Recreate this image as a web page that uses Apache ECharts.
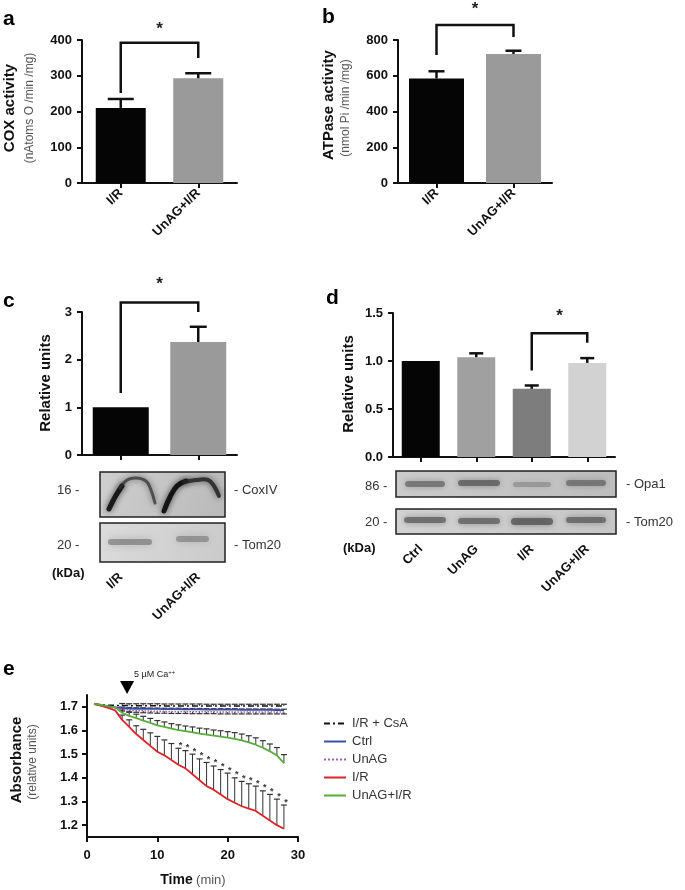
<!DOCTYPE html>
<html><head><meta charset="utf-8">
<script src="https://cdn.jsdelivr.net/npm/echarts@6/dist/echarts.min.js"></script>
<style>html,body{margin:0;padding:0;background:#fff}#c{width:685px;height:890px}</style>
</head><body><div id="c"></div>
<script>
const FONT = '"Liberation Sans", Arial, sans-serif';

// ---- Panel a : COX activity ----
const groupsAB = ['I/R', 'UnAG+I/R'];
const coxActivity = [210, 293];
const coxActivitySem = [25, 14];
const coxBracket = [252, 392, 350];

// ---- Panel b : ATPase activity ----
const atpaseActivity = [585, 722];
const atpaseActivitySem = [40, 18];
const atpBracket = [716, 884, 817];

// ---- Panel c : CoxIV relative units ----
const coxIVRelative = [1.0, 2.37];
const coxIVSem = [0, 0.32];
const coxIVBracket = [1.3, 3.2, 3.0];

// ---- Panel d : Opa1 relative units ----
const groupsD = ['Ctrl', 'UnAG', 'I/R', 'UnAG+I/R'];
const opa1Relative = [1.0, 1.04, 0.71, 0.98];
const opa1Sem = [0, 0.04, 0.035, 0.05];
const opa1Bracket = [0.9, 1.29, 1.19];

// ---- Panel e : absorbance over time ----
const timeMin = [1,2,3,4,5,6,7,8,9,10,11,12,13,14,15,16,17,18,19,20,21,22,23,24,25,26,27,28];
const absCsA   = [1.712,1.709,1.707,1.706,1.706,1.705,1.705,1.705,1.705,1.705,1.704,1.704,1.704,1.704,1.704,1.704,1.703,1.703,1.703,1.703,1.703,1.703,1.703,1.703,1.703,1.703,1.703,1.703];
const semCsA   = [0,0,0,0,0.008,0.008,0.008,0.008,0.008,0.008,0.008,0.008,0.008,0.008,0.008,0.008,0.008,0.008,0.008,0.008,0.008,0.008,0.008,0.008,0.008,0.008,0.008,0.008];
const absCtrl  = [1.712,1.706,1.701,1.698,1.695,1.693,1.692,1.692,1.691,1.691,1.690,1.690,1.690,1.689,1.689,1.689,1.688,1.688,1.688,1.688,1.688,1.687,1.687,1.687,1.687,1.687,1.686,1.686];
const semCtrl  = [0,0,0,0,0.004,0.004,0.004,0.004,0.004,0.004,0.004,0.004,0.004,0.004,0.004,0.004,0.004,0.004,0.004,0.004,0.004,0.004,0.004,0.004,0.004,0.004,0.004,0.004];
const absUnAG  = [1.712,1.705,1.699,1.694,1.690,1.687,1.685,1.683,1.682,1.681,1.681,1.680,1.680,1.680,1.679,1.679,1.679,1.679,1.678,1.678,1.678,1.678,1.678,1.678,1.678,1.678,1.678,1.678];
const semUnAG  = [0,0,0,0,0.008,0.008,0.008,0.008,0.008,0.008,0.008,0.008,0.008,0.008,0.008,0.008,0.008,0.008,0.008,0.008,0.008,0.008,0.008,0.008,0.008,0.008,0.008,0.008];
const absIR    = [1.712,1.705,1.695,1.685,1.645,1.615,1.585,1.560,1.535,1.510,1.495,1.475,1.455,1.440,1.415,1.390,1.365,1.350,1.330,1.310,1.295,1.280,1.270,1.260,1.240,1.220,1.200,1.185];
const semIR    = [0,0,0,0,0.020,0.030,0.035,0.045,0.055,0.065,0.065,0.070,0.070,0.075,0.085,0.090,0.100,0.100,0.105,0.110,0.105,0.105,0.105,0.105,0.105,0.110,0.110,0.100];
const absUnAGIR= [1.712,1.708,1.703,1.698,1.675,1.662,1.652,1.642,1.632,1.622,1.615,1.608,1.602,1.597,1.592,1.587,1.583,1.578,1.574,1.570,1.565,1.558,1.550,1.540,1.527,1.512,1.495,1.462];
const semUnAGIR= [0,0,0,0,0.012,0.015,0.017,0.018,0.019,0.020,0.021,0.021,0.022,0.022,0.023,0.023,0.024,0.024,0.025,0.025,0.026,0.027,0.028,0.029,0.030,0.031,0.033,0.036];
const sigTimesIR = [13,14,15,16,17,18,19,20,21,22,23,24,25,26,27,28];
const absTicks = [1.2, 1.3, 1.4, 1.5, 1.6, 1.7];
const caAdditionTime = 5.7;

const chart = echarts.init(document.getElementById('c'), null, {renderer: 'canvas'});

const axisLineS = {show: true, onZero: false, lineStyle: {color: '#111', width: 2}};
const axisTickS = {show: true, inside: false, length: 5, lineStyle: {color: '#111', width: 2}};
const labelS = {color: '#111', fontFamily: FONT, fontWeight: 'bold', fontSize: 13};

function catX(grid, data, rotateMargin) {
  return {type: 'category', gridIndex: grid, data: data, boundaryGap: true,
    axisLine: axisLineS, axisTick: Object.assign({alignWithLabel: true}, axisTickS),
    axisLabel: Object.assign({rotate: 45, margin: rotateMargin, interval: 0}, labelS),
    splitLine: {show: false}};
}
function valY(grid, min, max, interval, margin, fmt) {
  return {type: 'value', gridIndex: grid, min: min, max: max, interval: interval,
    axisLine: axisLineS, axisTick: axisTickS,
    axisLabel: Object.assign({margin: margin, formatter: fmt}, labelS),
    splitLine: {show: false}};
}

function barSeries(xi, vals, colors, width) {
  return {type: 'bar', xAxisIndex: xi, yAxisIndex: xi, barWidth: width, silent: true,
    data: vals.map((v, i) => ({value: v, itemStyle: {color: colors[i]}})), z: 2};
}
function barErrSeries(xi, vals, sems, capW) {
  return {type: 'custom', xAxisIndex: xi, yAxisIndex: xi, clip: false, silent: true, z: 3,
    data: vals.map((v, i) => [i, v, sems[i]]),
    encode: {x: 0, y: 1},
    renderItem: function (params, api) {
      const i = api.value(0), v = api.value(1), e = api.value(2);
      if (!e) return null;
      const p0 = api.coord([i, v]), p1 = api.coord([i, v + e]);
      return {type: 'group', children: [
        {type: 'line', shape: {x1: p0[0], y1: p0[1], x2: p1[0], y2: p1[1]}, style: {stroke: '#111', lineWidth: 2.5}},
        {type: 'line', shape: {x1: p1[0] - capW / 2, y1: p1[1], x2: p1[0] + capW / 2, y2: p1[1]}, style: {stroke: '#111', lineWidth: 2.5}}
      ]};
    }};
}
function bracketSeries(xi, iL, iR, ys, starGap) {
  return {type: 'custom', xAxisIndex: xi, yAxisIndex: xi, clip: false, silent: true, z: 4,
    data: [[iL, iR, ys[0], ys[1], ys[2]]],
    encode: {x: [0, 1], y: [2, 3, 4]},
    renderItem: function (params, api) {
      const a = api.coord([api.value(0), api.value(2)]);
      const b = api.coord([api.value(0), api.value(3)]);
      const c = api.coord([api.value(1), api.value(3)]);
      const d = api.coord([api.value(1), api.value(4)]);
      return {type: 'group', children: [
        {type: 'polyline', shape: {points: [a, b, c, d]}, style: {stroke: '#111', lineWidth: 2.5, fill: null}},
        {type: 'text', x: (b[0] + c[0]) / 2, y: b[1] - starGap,
          style: {text: '*', font: 'bold 17px ' + FONT, align: 'center', verticalAlign: 'middle', fill: '#222'}}
      ]};
    }};
}
function lineSeries(name, vals, color, width, type) {
  return {type: 'line', name: name, xAxisIndex: 4, yAxisIndex: 4, symbol: 'none', silent: true,
    data: timeMin.map((t, i) => [t, vals[i]]),
    lineStyle: {color: color, width: width, type: type}, itemStyle: {color: color}, z: 5};
}
function curveErrSeries(vals, sems, dir) {
  return {type: 'custom', xAxisIndex: 4, yAxisIndex: 4, clip: false, silent: true, z: 4,
    data: timeMin.map((t, i) => [t, vals[i], sems[i]]),
    encode: {x: 0, y: 1},
    renderItem: function (params, api) {
      const t = api.value(0), v = api.value(1), e = api.value(2);
      if (!e) return null;
      const p0 = api.coord([t, v]), p1 = api.coord([t, v + dir * e]);
      return {type: 'group', children: [
        {type: 'line', shape: {x1: p0[0], y1: p0[1], x2: p1[0], y2: p1[1]}, style: {stroke: '#333', lineWidth: 1}},
        {type: 'line', shape: {x1: p1[0] - 3, y1: p1[1], x2: p1[0] + 3, y2: p1[1]}, style: {stroke: '#333', lineWidth: 1.2}}
      ]};
    }};
}

// ---------- graphics: labels, blots ----------
const G = [];
function txt(x, y, text, o) {
  o = o || {};
  G.push({type: 'text', x: x, y: y, rotation: o.rot || 0, silent: true,
    style: {text: text, fill: o.color || '#222', font: (o.weight || 'normal') + ' ' + (o.size || 13) + 'px ' + FONT,
      align: o.align || 'left', verticalAlign: 'middle'}});
}
const R90 = Math.PI / 2;
// panel letters
txt(3, 19, 'a', {weight: 'bold', size: 21, color: '#000'});
txt(322, 17, 'b', {weight: 'bold', size: 21, color: '#000'});
txt(3, 301, 'c', {weight: 'bold', size: 21, color: '#000'});
txt(326, 298, 'd', {weight: 'bold', size: 21, color: '#000'});
txt(3, 669, 'e', {weight: 'bold', size: 21, color: '#000'});
// y-axis titles
txt(10, 108, 'COX activity', {weight: 'bold', size: 15, rot: R90, align: 'center', color: '#111'});
txt(30, 108, '(nAtoms O /min /mg)', {size: 12, rot: R90, align: 'center', color: '#555'});
txt(329, 105, 'ATPase activity', {weight: 'bold', size: 15, rot: R90, align: 'center', color: '#111'});
txt(346, 108, '(nmol Pi /min /mg)', {size: 12, rot: R90, align: 'center', color: '#555'});
txt(46, 383, 'Relative units', {weight: 'bold', size: 15, rot: R90, align: 'center', color: '#111'});
txt(349, 384, 'Relative units', {weight: 'bold', size: 15, rot: R90, align: 'center', color: '#111'});
txt(17, 760, 'Absorbance', {weight: 'bold', size: 15, rot: R90, align: 'center', color: '#111'});
txt(33, 762, '(relative units)', {size: 12, rot: R90, align: 'center', color: '#555'});
G.push({type: 'text', x: 193, y: 880, silent: true, style: {text: '{b|Time} {n|(min)}', align: 'center', verticalAlign: 'middle',
  rich: {b: {font: 'bold 14px ' + FONT, fill: '#111'}, n: {font: '13px ' + FONT, fill: '#555'}}}});
G.push({type: 'text', x: 134, y: 675, silent: true, style: {text: '{n|5 \u00b5M Ca}{s|++}', align: 'left', verticalAlign: 'middle',
  rich: {n: {font: '9px ' + FONT, fill: '#222'}, s: {font: '6px ' + FONT, fill: '#222', padding: [0, 0, 6, 0]}}}});

// blot labels
txt(57, 490, '16 -', {color: '#333'});
txt(57, 545, '20 -', {color: '#333'});
txt(234, 490, '- CoxIV', {color: '#333'});
txt(234, 545, '- Tom20', {color: '#333'});
txt(52, 573, '(kDa)', {weight: 'bold', color: '#111'});
txt(365, 486, '86 -', {color: '#333'});
txt(365, 522, '20 -', {color: '#333'});
txt(626, 484, '- Opa1', {color: '#333'});
txt(626, 522, '- Tom20', {color: '#333'});
txt(343, 548, '(kDa)', {weight: 'bold', color: '#111'});

// blot boxes
function box(x, y, w, h, c1, c2) {
  G.push({type: 'rect', silent: true, shape: {x: x, y: y, width: w, height: h},
    style: {fill: new echarts.graphic.LinearGradient(0, 0, 1, 1, [{offset: 0, color: c1}, {offset: 1, color: c2}]), stroke: '#222', lineWidth: 1.5}});
}
function band(x, y, w, h, color, blur) {
  G.push({type: 'rect', silent: true, shape: {x: x, y: y, width: w, height: h, r: h / 2},
    style: {fill: color, shadowBlur: blur, shadowColor: color}});
}
function stroke(points, width, color, blur) {
  G.push({type: 'polyline', silent: true, shape: {points: points, smooth: 0.4},
    style: {stroke: color, lineWidth: width, fill: null, shadowBlur: blur, shadowColor: 'rgba(0,0,0,0.7)', lineCap: 'round'}});
}
box(100, 472, 125, 45, '#cfcfcf', '#b9b9b9');
stroke([[109, 509], [115, 497], [122, 486]], 5, 'rgba(20,20,20,0.95)', 6);
stroke([[120, 488], [127, 480], [136, 478], [146, 481], [151, 490], [155, 503]], 3, 'rgba(50,50,50,0.75)', 6);
stroke([[164, 511], [170, 497], [177, 486], [186, 481]], 5, 'rgba(15,15,15,0.95)', 6);
stroke([[184, 482], [196, 480], [208, 480], [214, 486], [219, 496]], 4, 'rgba(35,35,35,0.85)', 6);
box(100, 523, 125, 39, '#dcdcdc', '#cacaca');
band(108, 539, 44, 6, 'rgba(110,110,110,0.6)', 9);
band(176, 536, 33, 6, 'rgba(110,110,110,0.55)', 9);
box(396, 471, 220, 26, '#cbcbcb', '#bdbdbd');
band(405, 481, 40, 6, 'rgba(90,90,90,0.65)', 6);
band(458, 480, 42, 6, 'rgba(80,80,80,0.7)', 6);
band(513, 482, 38, 5, 'rgba(120,120,120,0.5)', 6);
band(566, 480, 40, 6, 'rgba(90,90,90,0.65)', 6);
box(396, 509, 220, 25, '#d2d2d2', '#c6c6c6');
band(404, 517, 42, 6, 'rgba(85,85,85,0.7)', 6);
band(458, 518, 42, 6, 'rgba(85,85,85,0.7)', 6);
band(511, 518, 42, 7, 'rgba(80,80,80,0.75)', 6);
band(566, 517, 40, 6, 'rgba(85,85,85,0.7)', 6);

const option = {
  animation: false,
  backgroundColor: '#fff',
  textStyle: {fontFamily: FONT},
  grid: [
    {left: 82, top: 40, width: 155, height: 143},
    {left: 398, top: 40, width: 154, height: 143},
    {left: 82, top: 312, width: 155, height: 143},
    {left: 393, top: 313, width: 222, height: 144},
    {left: 87, top: 695, width: 211, height: 142}
  ],
  xAxis: [
    catX(0, groupsAB, 8),
    catX(1, groupsAB, 8),
    catX(2, groupsAB, 120),
    catX(3, groupsD, 90),
    {type: 'value', gridIndex: 4, min: 0, max: 30, interval: 10,
      axisLine: axisLineS, axisTick: axisTickS,
      axisLabel: Object.assign({margin: 12}, labelS), splitLine: {show: false}}
  ],
  yAxis: [
    valY(0, 0, 400, 100, 10),
    valY(1, 0, 800, 200, 10),
    valY(2, 0, 3, 1, 10),
    valY(3, 0, 1.5, 0.5, 10, v => v.toFixed(1)),
    {type: 'value', gridIndex: 4, min: 1.15, max: 1.75,
      axisLine: axisLineS,
      axisTick: Object.assign({customValues: absTicks}, axisTickS),
      axisLabel: Object.assign({margin: 9, customValues: absTicks, formatter: v => v.toFixed(1)}, labelS),
      splitLine: {show: false}}
  ],
  legend: {
    orient: 'vertical', left: 318, top: 712, itemWidth: 22, itemHeight: 10, itemGap: 5,
    data: ['I/R + CsA', 'Ctrl', 'UnAG', 'I/R', 'UnAG+I/R'],
    itemStyle: {opacity: 0},
    textStyle: {fontFamily: FONT, fontSize: 13, color: '#333', padding: [0, 0, 0, 1]},
    selectedMode: false
  },
  graphic: G,
  series: [
    barSeries(0, coxActivity, ['#050505', '#9a9a9a'], 50),
    barErrSeries(0, coxActivity, coxActivitySem, 26),
    bracketSeries(0, 0, 1, coxBracket, 14),
    barSeries(1, atpaseActivity, ['#050505', '#9a9a9a'], 55),
    barErrSeries(1, atpaseActivity, atpaseActivitySem, 16),
    bracketSeries(1, 0, 1, atpBracket, 16),
    barSeries(2, coxIVRelative, ['#050505', '#9a9a9a'], 56),
    barErrSeries(2, coxIVRelative, coxIVSem, 17),
    bracketSeries(2, 0, 1, coxIVBracket, 18),
    barSeries(3, opa1Relative, ['#050505', '#a0a0a0', '#7d7d7d', '#d2d2d2'], 38),
    barErrSeries(3, opa1Relative, opa1Sem, 14),
    bracketSeries(3, 2, 3, opa1Bracket, 17),
    curveErrSeries(absCsA, semCsA, 1),
    curveErrSeries(absCtrl, semCtrl, 1),
    curveErrSeries(absUnAG, semUnAG, -1),
    curveErrSeries(absIR, semIR, 1),
    curveErrSeries(absUnAGIR, semUnAGIR, 1),
    lineSeries('I/R + CsA', absCsA, '#111111', 1.5, [6, 3, 2, 3]),
    lineSeries('Ctrl', absCtrl, '#3b4ea6', 1.8, 'solid'),
    lineSeries('UnAG', absUnAG, '#9a5fb0', 1.5, 'dotted'),
    lineSeries('I/R', absIR, '#d9262b', 1.8, 'solid'),
    lineSeries('UnAG+I/R', absUnAGIR, '#5aad3c', 1.8, 'solid'),
    // Ca2+ addition arrow
    {type: 'custom', xAxisIndex: 4, yAxisIndex: 4, clip: false, silent: true, z: 6,
      data: [[caAdditionTime, 1.75]],
      encode: {x: 0, y: 1},
      renderItem: function (params, api) {
        const p = api.coord([api.value(0), api.value(1)]);
        return {type: 'polygon', shape: {points: [[p[0] - 7, p[1] - 14], [p[0] + 7, p[1] - 14], [p[0], p[1] - 1]]},
          style: {fill: '#000'}};
      }},
    // significance stars
    {type: 'custom', xAxisIndex: 4, yAxisIndex: 4, clip: false, silent: true, z: 6,
      data: sigTimesIR.map(t => [t, absIR[t - 1] + semIR[t - 1]]),
      encode: {x: 0, y: 1},
      renderItem: function (params, api) {
        const p = api.coord([api.value(0), api.value(1)]);
        return {type: 'text', x: p[0] + 2, y: p[1] - 3,
          style: {text: '*', font: 'bold 9px ' + FONT, align: 'center', verticalAlign: 'middle', fill: '#333'}};
      }}
  ]
};
chart.setOption(option);
</script>
</body></html>
